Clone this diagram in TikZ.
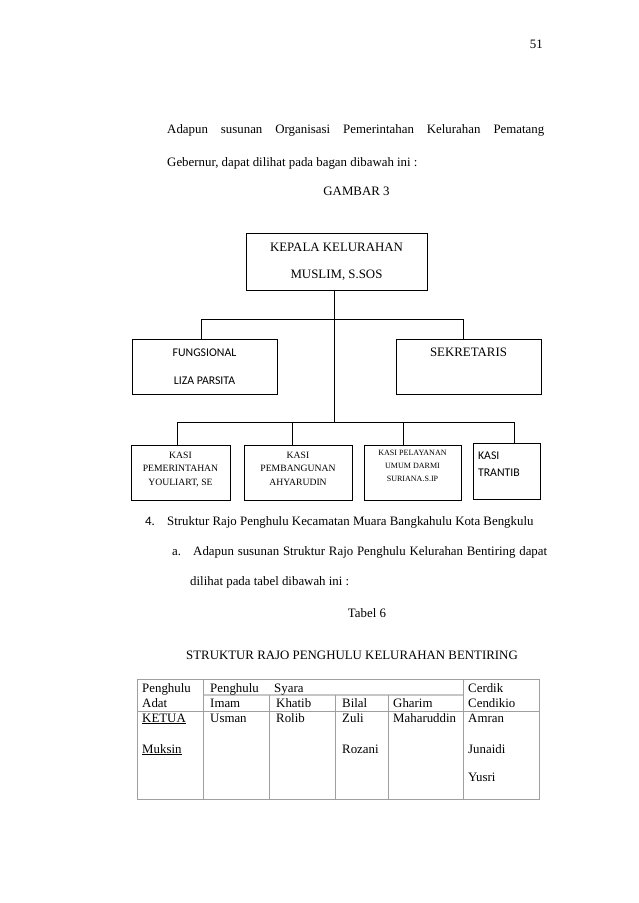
\documentclass[tikz,border=0pt]{standalone}
\usepackage{fontspec}
\setmainfont{Liberation Serif}
\newfontfamily\carlito{Carlito}

\begin{document}
\begin{tikzpicture}[x=0.9326pt,y=-0.9326pt,every node/.style={font=\fontsize{12}{14}\selectfont,inner sep=0pt},
  box/.style={draw,line width=0.8pt,align=center},
  kasi/.style={box,minimum height=51.3pt,font=\fontsize{9}{12.6}\selectfont},
  txt/.style={anchor=base west},
  grid/.style={draw=gray!75,line width=0.7pt}]
\useasboundingbox (0,0) rectangle (638,903);
\node[anchor=base east] (hal) at (543,49) {51};
\node[txt] (par1) at (167,134) {\makebox[351.6pt][s]{Adapun susunan Organisasi Pemerintahan Kelurahan Pematang}};
\node[txt] (par2) at (167,166) {Gebernur, dapat dilihat pada bagan dibawah ini :};
\node[anchor=base] (gambar) at (356.5,196) {GAMBAR 3};
\node[box,minimum width=168.8pt,minimum height=53.2pt,font=\fontsize{12}{25.2}\selectfont] (kepala) at (336.5,261.5) {KEPALA KELURAHAN\\MUSLIM, S.SOS};
\node[box,minimum width=135.2pt,minimum height=51.3pt,font=\carlito\fontsize{11}{26}\selectfont] (fungsional) at (204.5,366.5) {FUNGSIONAL\\LIZA PARSITA};
\node[box,minimum width=135.2pt,minimum height=51.3pt,font=\fontsize{12}{26}\selectfont] (sekretaris) at (468.5,366.5) {SEKRETARIS\\\mbox{}};
\node[kasi,minimum width=92.3pt] (pemerintahan) at (180.5,472.5) {KASI\\PEMERINTAHAN\\YOULIART, SE\\[-5pt]\mbox{}};
\node[kasi,minimum width=100.7pt] (pembangunan) at (298,472.5) {KASI\\PEMBANGUNAN\\AHYARUDIN\\[-5pt]\mbox{}};
\node[kasi,minimum width=90.5pt,font=\fontsize{7.5}{12.1}\selectfont] (pelayanan) at (412.5,472.5) {KASI PELAYANAN\\UMUM DARMI\\SURIANA.S.IP\\\mbox{}};
\node[box,align=left,text width=53pt,minimum width=62.5pt,minimum height=52.2pt,font=\carlito\fontsize{11}{16}\selectfont] (trantib) at (506.5,471) {KASI\\TRANTIB\\[-4pt]\mbox{}};
\coordinate (hub) at (334,422);
\coordinate (tapF) at (201,319);
\coordinate (tapS) at (463,319);
\coordinate (tap1) at (177,422);
\coordinate (tap2) at (292,422);
\coordinate (tap3) at (403,422);
\coordinate (tap4) at (514,422);
\draw[line width=0.8pt] (kepala.south -| hub) -- (hub);
\draw[line width=0.8pt] (fungsional.north -| tapF) -- (tapF) -- (tapS) -- (sekretaris.north -| tapS);
\draw[line width=0.8pt] (pemerintahan.north -| tap1) -- (tap1) -- (tap4) -- (trantib.north -| tap4);
\draw[line width=0.8pt] (tap2) -- (pembangunan.north -| tap2);
\draw[line width=0.8pt] (tap3) -- (pelayanan.north -| tap3);
\node[txt,font=\carlito\fontsize{12}{14}\selectfont] (no4) at (145,525) {4.};
\node[txt] (butir4) at (167,525) {Struktur Rajo Penghulu Kecamatan Muara Bangkahulu Kota Bengkulu};
\node[txt] (noa) at (172,555) {a.};
\node[txt] (butira) at (193,555) {\makebox[330.1pt][s]{Adapun susunan Struktur Rajo Penghulu Kelurahan Bentiring dapat}};
\node[txt] (butirb) at (190,585) {dilihat pada tabel dibawah ini :};
\node[anchor=base] (tabel) at (367,617) {Tabel 6};
\node[anchor=base] (judul) at (352,659) {STRUKTUR RAJO PENGHULU KELURAHAN BENTIRING};
\draw[grid] (137,679) rectangle (539,799);
\draw[grid] (137,711) -- (539,711);
\draw[grid,draw=gray!45,line width=1.4pt] (203,695) -- (463,695);
\draw[grid] (203,679) -- (203,799);
\draw[grid] (269,695) -- (269,799);
\draw[grid] (335,695) -- (335,799);
\draw[grid] (388,695) -- (388,799);
\draw[grid] (463,679) -- (463,799);
\node[txt] (adat1) at (142,692) {Penghulu};
\node[txt] (adat2) at (142,707) {Adat};
\node[txt] (ketua) at (142,722) {\underline{KETUA}};
\node[txt] (muksin) at (142,753) {\underline{Muksin}};
\node[txt] (syara0) at (210,692) {Penghulu};
\node[txt] (syara1) at (274,692) {Syara};
\node[txt] (imam) at (210,707) {Imam};
\node[txt] (khatib) at (276,707) {Khatib};
\node[txt] (bilal) at (342,707) {Bilal};
\node[txt] (gharim) at (393,707) {Gharim};
\node[txt] (cerdik1) at (468,692) {Cerdik};
\node[txt] (cerdik2) at (468,707) {Cendikio};
\node[txt] (usman) at (210,722) {Usman};
\node[txt] (rolib) at (276,722) {Rolib};
\node[txt] (zuli) at (342,722) {Zuli};
\node[txt] (rozani) at (342,753) {Rozani};
\node[txt] (maharuddin) at (393,722) {Maharuddin};
\node[txt] (amran) at (468,722) {Amran};
\node[txt] (junaidi) at (468,753) {Junaidi};
\node[txt] (yusri) at (468,781) {Yusri};
\end{tikzpicture}
\end{document}
